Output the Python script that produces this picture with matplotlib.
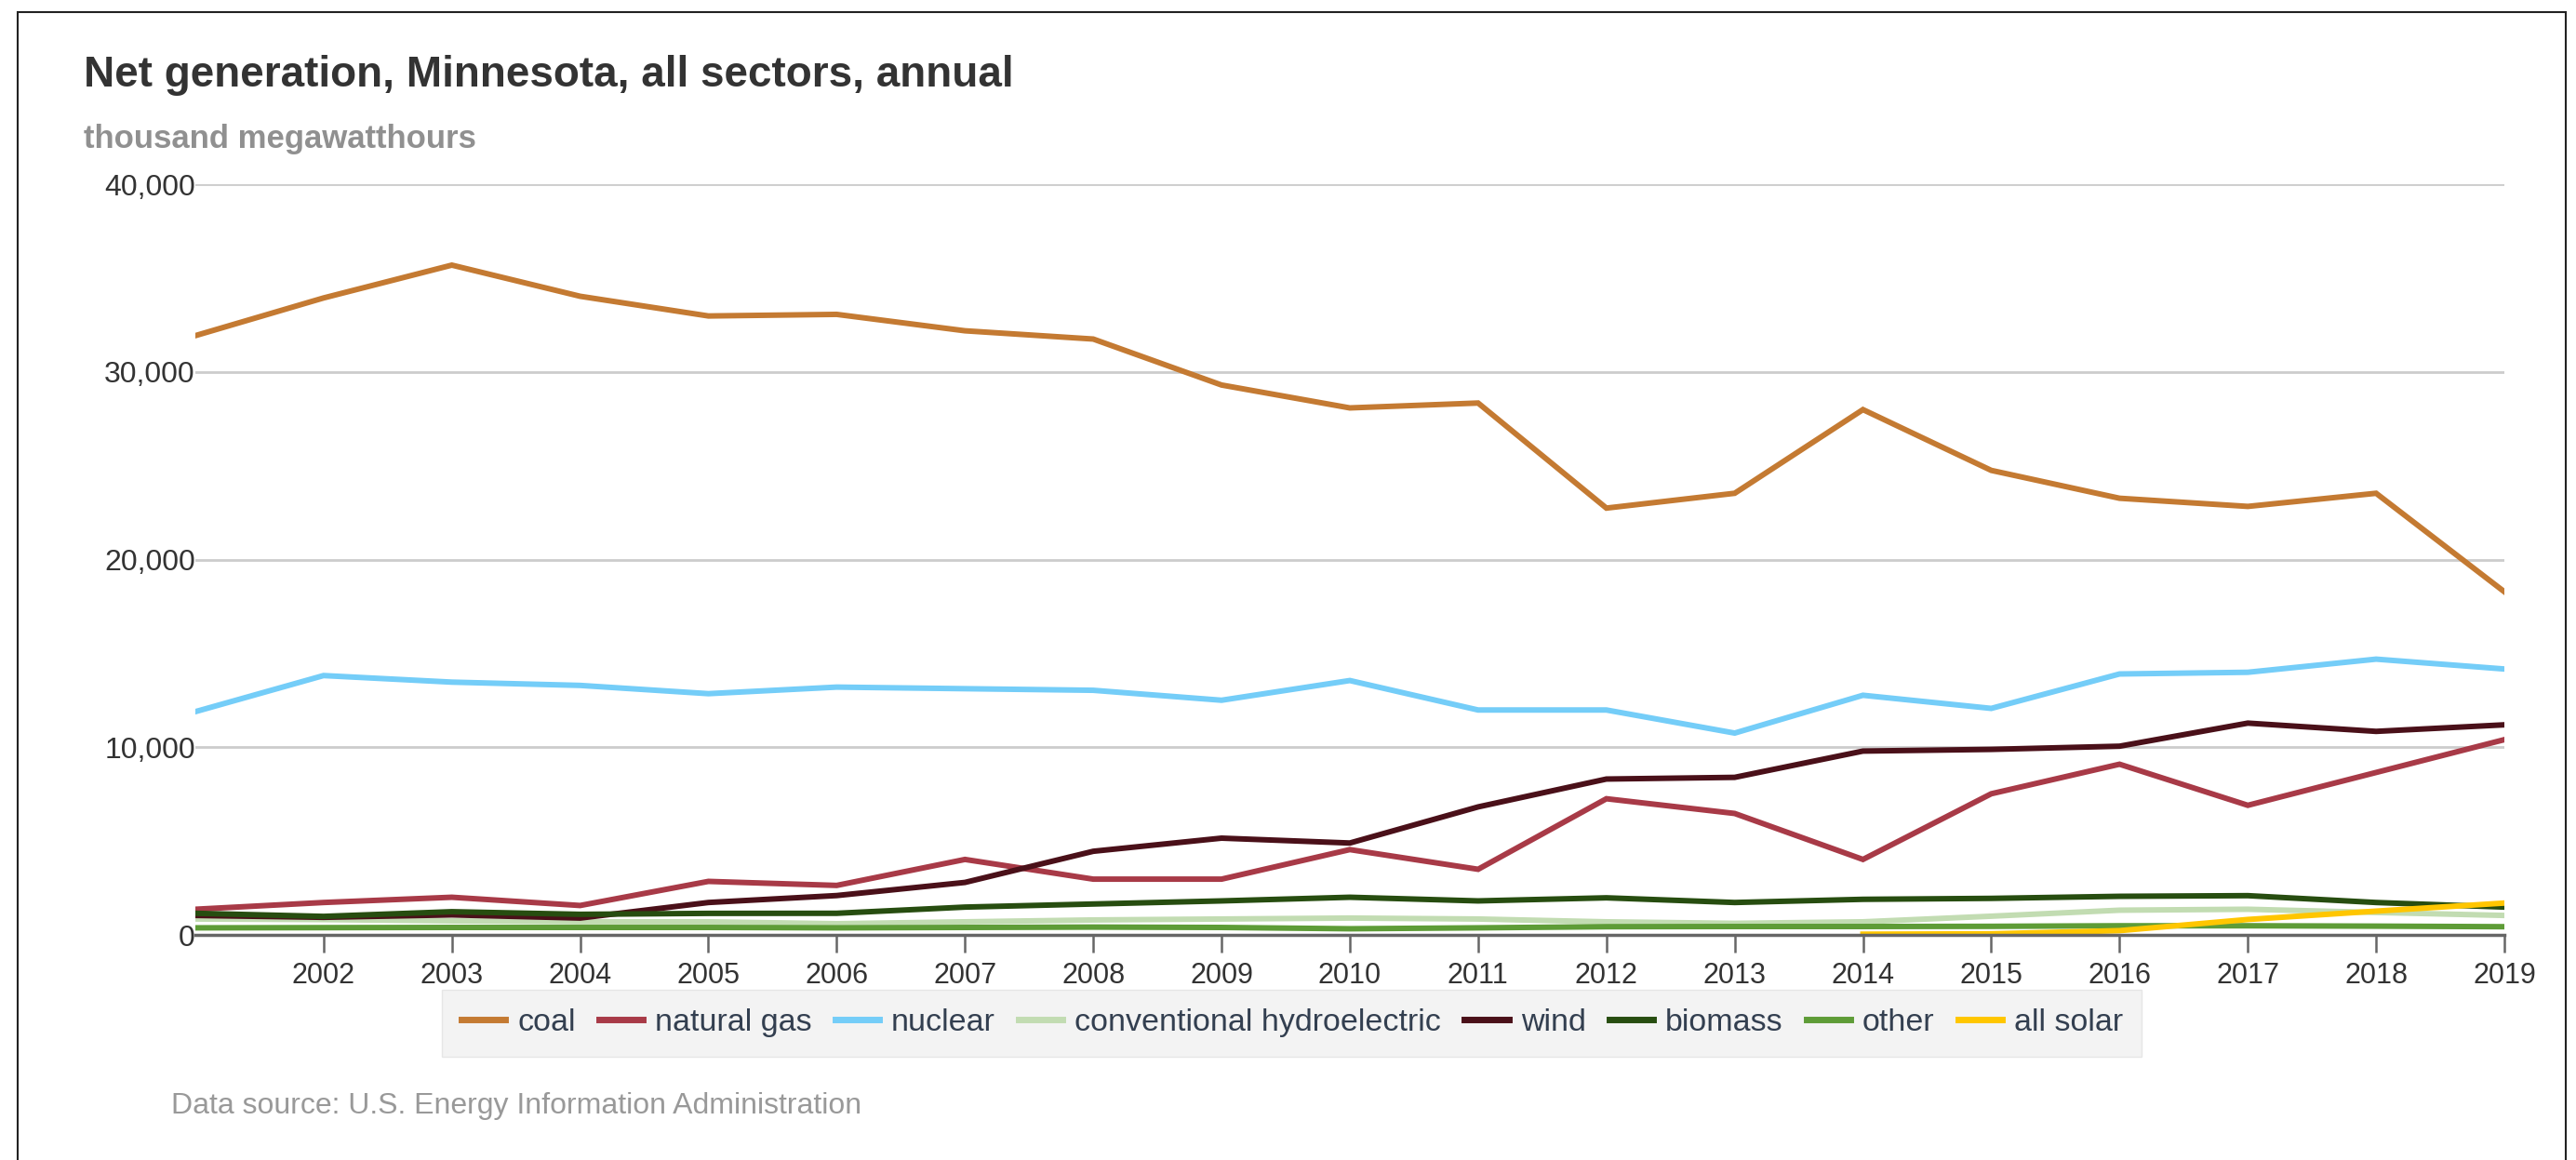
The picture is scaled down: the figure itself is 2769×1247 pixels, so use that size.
import numpy as np
import matplotlib
matplotlib.use("Agg")
import matplotlib.pyplot as plt
from matplotlib.patches import Rectangle

plt.rcParams['font.family'] = ['Liberation Sans', 'DejaVu Sans']

years = list(range(2001, 2020))

coal = [31940, 33950, 35700, 34040, 32990, 33075, 32200, 31760, 29310, 28090,
        28350, 22750, 23540, 28000, 24760, 23275, 22840, 23540, 18290]
natural_gas = [1370, 1730, 2010, 1570, 2855, 2640, 4025, 2975, 2975, 4550,
               3500, 7260, 6475, 4025, 7525, 9100, 6910, 8660, 10410]
nuclear = [11900, 13825, 13475, 13300, 12860, 13210, 13125, 13040, 12510, 13560,
           11990, 11990, 10760, 12775, 12075, 13910, 14000, 14700, 14175]
hydro = [850, 820, 750, 700, 700, 600, 700, 800, 850, 900,
         850, 700, 620, 700, 1000, 1320, 1370, 1200, 1040]
wind = [1040, 940, 1070, 900, 1730, 2100, 2800, 4460, 5160, 4900,
        6825, 8310, 8400, 9800, 9890, 10060, 11290, 10850, 11200]
biomass = [1155, 990, 1240, 1100, 1150, 1155, 1485, 1650, 1815, 2010,
           1815, 1980, 1730, 1900, 1950, 2060, 2095, 1730, 1485]
other = [380, 390, 400, 400, 400, 380, 400, 420, 400, 330,
         380, 440, 450, 450, 460, 490, 490, 470, 440]
solar = [np.nan] * 13 + [40, 60, 230, 825, 1270, 1700]

series = [
    ("coal", coal, "#c47a32"),
    ("natural gas", natural_gas, "#a83a47"),
    ("nuclear", nuclear, "#74cdf8"),
    ("conventional hydroelectric", hydro, "#c2dcb2"),
    ("wind", wind, "#4a1019"),
    ("biomass", biomass, "#274d10"),
    ("other", other, "#5e9c37"),
    ("all solar", solar, "#ffc600"),
]

fig = plt.figure(figsize=(27.69, 12.47), dpi=100)
ax = fig.add_axes([0.0758, 0.194, 0.8964, 0.647])

for name, vals, col in series:
    ax.plot(years, vals, color=col, lw=4.3, label=name, solid_joinstyle='miter')

ax.set_xlim(2001, 2019)
ax.set_ylim(0, 40000)
ax.set_yticks([0, 10000, 20000, 30000, 40000])
ax.set_yticklabels(["0", "10,000", "20,000", "30,000", "40,000"])
ax.set_xticks(years[1:])
ax.set_xticklabels([str(y) for y in years[1:]])
ax.grid(axis='y', color='#cccccc', lw=2)
ax.set_axisbelow(True)
for s in ['top', 'right', 'left']:
    ax.spines[s].set_visible(False)
ax.spines['bottom'].set_color('#666666')
ax.spines['bottom'].set_linewidth(2.5)
ax.tick_params(axis='x', length=14, width=1.8, color='#666666', pad=7,
               labelsize=22, labelcolor='#333333')
ax.tick_params(axis='y', length=0, pad=0, labelsize=23, labelcolor='#333333')

fig.text(90 / 2769, 1 - 81 / 1247, "Net generation, Minnesota, all sectors, annual",
         fontsize=33, fontweight='bold', color='#333333', va='center')
fig.text(90 / 2769, 1 - 149 / 1247, "thousand megawatthours",
         fontsize=25, fontweight='bold', color='#909090', va='center')
fig.text(184 / 2769, 1 - 1189 / 1247, "Data source: U.S. Energy Information Administration",
         fontsize=23, color='#999999', va='center')

leg = fig.legend(loc='center', bbox_to_anchor=(0.5016, 0.118), ncol=8,
                 fontsize=24.5, frameon=True, fancybox=False, handlelength=1.39,
                 handletextpad=0.38, columnspacing=0.74, borderpad=0.6)
leg.get_frame().set_facecolor('#f0f0f0')
leg.get_frame().set_edgecolor('#e2e2e2')
for h in leg.get_lines():
    h.set_linewidth(5)
for t in leg.get_texts():
    t.set_color('#333f50')

fig.patches.append(Rectangle((19 / 2769, -0.1), (2758 - 19) / 2769, 1.1 - 13 / 1247,
                             transform=fig.transFigure, fill=False,
                             edgecolor='#222222', lw=1.5))

fig.savefig("out.png", dpi=100)
